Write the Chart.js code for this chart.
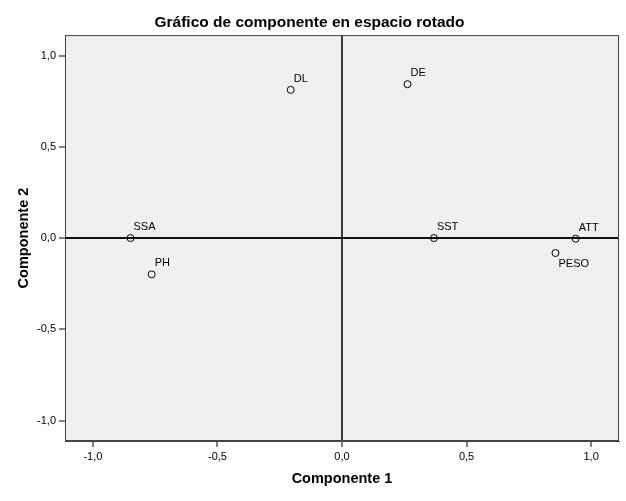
<!DOCTYPE html>
<html>
<head>
<meta charset="utf-8">
<script src="https://cdn.jsdelivr.net/npm/chart.js@4"></script>
<style>
  html, body { margin: 0; padding: 0; background: #fff; }
</style>
</head>
<body>
<canvas id="myChart" width="626" height="501"></canvas>
<script>
// datos
const variables = ['DL', 'DE', 'SSA', 'PH', 'SST', 'ATT', 'PESO'];
const componente1 = [-0.206, 0.263, -0.849, -0.764, 0.369, 0.938, 0.857];
const componente2 = [0.812, 0.843, 0.0, -0.199, 0.0, -0.004, -0.082];
const tickValues = [-1, -0.5, 0, 0.5, 1];
const tickLabels = ['-1,0', '-0,5', '0,0', '0,5', '1,0'];

const fuente = '"Liberation Sans", Arial, sans-serif';

// fondo gris del área y marco completo
const marco = {
  id: 'marco',
  beforeDraw(chart) {
    const a = chart.chartArea, ctx = chart.ctx;
    ctx.save();
    ctx.fillStyle = '#f0f0f0';
    ctx.fillRect(a.left, a.top, a.right - a.left, a.bottom - a.top);
    ctx.restore();
  },
  afterDraw(chart) {
    const a = chart.chartArea, ctx = chart.ctx;
    ctx.save();
    ctx.strokeStyle = '#444';
    ctx.lineWidth = 1;
    ctx.strokeRect(a.left + 0.5, a.top + 0.5, a.right - a.left - 1, a.bottom - a.top - 1);
    ctx.restore();
  }
};

// etiquetas de cada punto
const etiquetas = {
  id: 'etiquetas',
  afterDatasetsDraw(chart) {
    const ctx = chart.ctx;
    const meta = chart.getDatasetMeta(0);
    ctx.save();
    ctx.font = '11px ' + fuente;
    ctx.fillStyle = '#000';
    ctx.textAlign = 'left';
    ctx.textBaseline = 'middle';
    meta.data.forEach((pt, i) => {
      const nombre = variables[i];
      if (nombre === 'PESO') ctx.fillText(nombre, pt.x + 3, pt.y + 11);
      else ctx.fillText(nombre, pt.x + 3, pt.y - 11);
    });
    ctx.restore();
  }
};

const ejeComun = (titulo, pad, colorCero) => ({
  type: 'linear',
  min: -1.112,
  max: 1.112,
  afterBuildTicks: s => { s.ticks = tickValues.map(v => ({ value: v })); },
  ticks: {
    padding: 3,
    color: '#000',
    font: { family: fuente, size: 11 },
    callback: v => tickLabels[tickValues.indexOf(v)]
  },
  grid: {
    color: c => (c.tick && c.tick.value === 0 ? colorCero : 'rgba(0,0,0,0)'),
    lineWidth: 2,
    tickColor: '#555',
    tickWidth: 1.5,
    tickLength: 6
  },
  border: { display: true, color: '#444', width: 1 },
  title: {
    display: true,
    text: titulo,
    color: '#000',
    font: { family: fuente, size: 14.5, weight: 'bold' },
    padding: pad
  }
});

const ejeX = ejeComun('Componente 1', { top: 0, bottom: 13 }, '#3a3a3a');
ejeX.afterFit = s => { s.height = 60; };
const ejeY = ejeComun('Componente 2', { top: 15, bottom: 0 }, '#111');
ejeY.afterFit = s => { s.width = 65; };

new Chart(document.getElementById('myChart'), {
  type: 'scatter',
  data: {
    datasets: [{
      label: 'Componentes',
      data: variables.map((n, i) => ({ x: componente1[i], y: componente2[i] })),
      pointRadius: 3.5,
      pointHoverRadius: 3.5,
      pointBorderColor: '#000',
      pointBackgroundColor: 'rgba(0,0,0,0)',
      pointBorderWidth: 1
    }]
  },
  options: {
    responsive: false,
    animation: false,
    layout: { padding: { left: 0, right: 7, top: 0, bottom: 0 } },
    plugins: {
      legend: { display: false },
      tooltip: { enabled: false },
      title: {
        display: true,
        text: 'Gráfico de componente en espacio rotado',
        color: '#000',
        font: { family: fuente, size: 15.5, weight: 'bold' },
        padding: { top: 13, bottom: 3.5 }
      }
    },
    scales: { x: ejeX, y: ejeY }
  },
  plugins: [marco, etiquetas]
});
</script>
</body>
</html>
